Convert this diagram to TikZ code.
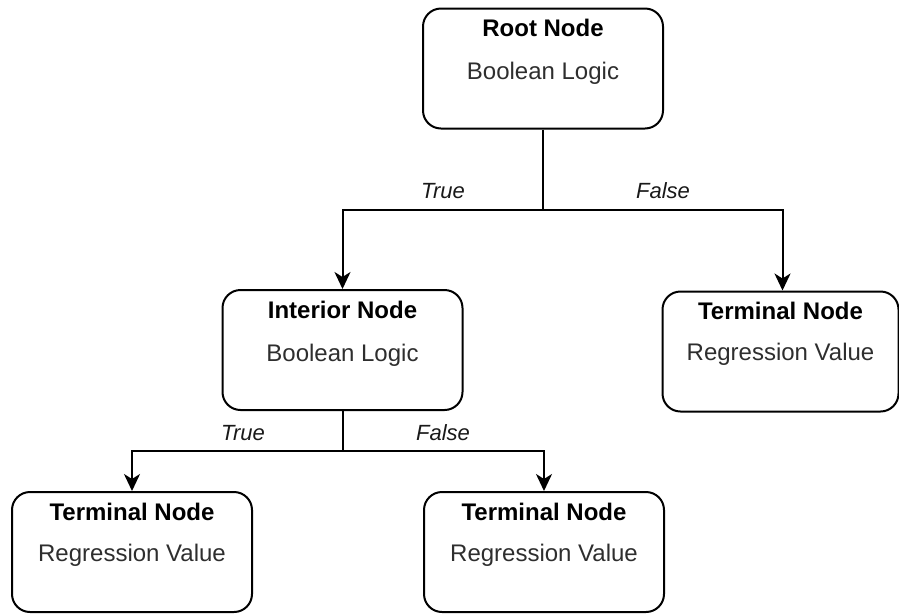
\documentclass[tikz,border=0pt]{standalone}
\usepackage{fontspec}
\setmainfont{Liberation Sans}
\usetikzlibrary{arrows.meta}
\begin{document}
\begin{tikzpicture}[x=1pt,y=-1pt,
  box/.style={draw=black, line width=2pt, rounded corners=18pt,
    minimum width=240pt, minimum height=120pt, inner sep=0pt},
  ttl/.style={anchor=base, font=\fontsize{24}{28}\selectfont\bfseries, text=black, inner sep=0pt},
  sub/.style={anchor=base, font=\fontsize{24}{28}\selectfont, text=black!82, inner sep=0pt},
  lbl/.style={anchor=base, font=\fontsize{22}{26}\selectfont\itshape, text=black!90, inner sep=0pt},
  wire/.style={line width=2pt, draw=black},
  arr/.style={wire, -{Stealth[length=17pt,width=16pt,inset=5pt]}}]
\useasboundingbox (0,0) rectangle (899,614);

% boxes
\node[box] (root) at (543,68.5) {};
\node[box] (int) at (342.5,350) {};
\node[box, minimum width=236pt] (tr) at (780.5,351.5) {};
\node[box] (bl) at (132,552) {};
\node[box] (bm) at (544,552) {};

% box texts
\node[ttl] (rootT) at ([yshift=-29pt]root.north) {Root Node};
\node[sub] (rootS) at ([yshift=-72pt]root.north) {Boolean Logic};
\node[ttl] (intT) at ([yshift=-29pt]int.north) {Interior Node};
\node[sub] (intS) at ([yshift=-72pt]int.north) {Boolean Logic};
\node[ttl] (trT) at ([yshift=-29pt]tr.north) {Terminal Node};
\node[sub] (trS) at ([yshift=-70pt]tr.north) {Regression Value};
\node[ttl] (blT) at ([yshift=-29pt]bl.north) {Terminal Node};
\node[sub] (blS) at ([yshift=-70pt]bl.north) {Regression Value};
\node[ttl] (bmT) at ([yshift=-29pt]bm.north) {Terminal Node};
\node[sub] (bmS) at ([yshift=-70pt]bm.north) {Regression Value};

% branching from the root
\coordinate (rj) at (543,210);
\draw[wire] (root.south) -- (rj);
\draw[arr] (rj) -| (int.north);
\draw[arr] (rj) -| ([xshift=2pt]tr.north);
\node[lbl] (t1) at (443,198) {True};
\node[lbl] (f1) at (663,198) {False};

% branching from the interior node
\coordinate (ij) at (342.5,451);
\draw[wire] (int.south) -- (ij);
\draw[arr] (ij) -| (bl.north);
\draw[arr] (ij) -| (bm.north);
\node[lbl] (t2) at (243,440) {True};
\node[lbl] (f2) at (443,440) {False};
\end{tikzpicture}
\end{document}
